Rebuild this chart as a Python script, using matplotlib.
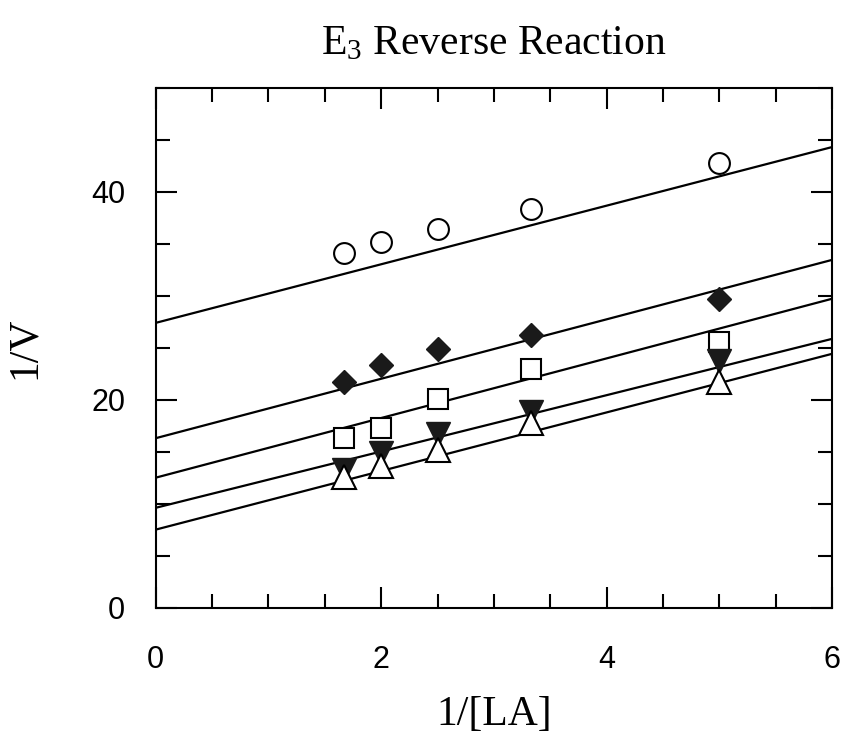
import matplotlib
matplotlib.use('Agg')
import matplotlib.pyplot as plt
import numpy as np
from matplotlib.ticker import MultipleLocator

# serif text for title and axis labels, sans for tick numbers
plt.rcParams['mathtext.fontset'] = 'custom'
plt.rcParams['mathtext.rm'] = 'Liberation Serif'
plt.rcParams['mathtext.it'] = 'Liberation Serif'

# 1/[LA] for each measured point
inv_la = [1.667, 2.0, 2.5, 3.333, 5.0]

# 1/V for each series
v_circle = [34.1, 35.2, 36.4, 38.4, 42.8]
v_diamond = [21.7, 23.3, 24.9, 26.2, 29.7]
v_square = [16.3, 17.3, 20.1, 23.0, 25.6]
v_tri_down = [13.2, 14.9, 16.7, 18.8, 23.7]
v_tri_up = [12.6, 13.6, 15.2, 17.8, 21.7]

# fitted lines (intercept, slope) for each series
fit_circle = (27.4, 2.82)
fit_diamond = (16.3, 2.86)
fit_square = (12.5, 2.87)
fit_tri_down = (9.6, 2.71)
fit_tri_up = (7.5, 2.82)

fig = plt.figure(figsize=(8.44, 7.4), dpi=100)
ax = fig.add_axes([0.1845, 0.179, 0.8013, 0.702])

# regression lines across the whole x range
x_line = np.array([0, 6])
for b, m in [fit_circle, fit_diamond, fit_square, fit_tri_down, fit_tri_up]:
    ax.plot(x_line, b + m * x_line, color='black', linewidth=1.6, zorder=2)

# data points
ax.plot(inv_la, v_circle, 'o', ms=15, mfc='white', mec='black', mew=1.5,
        linestyle='none', zorder=3)
ax.plot(inv_la, v_diamond, 'D', ms=12.5, mfc='#1a1a1a', mec='#1a1a1a', mew=1,
        linestyle='none', zorder=3)
ax.plot(inv_la, v_square, 's', ms=15, mfc='white', mec='black', mew=1.5,
        linestyle='none', zorder=3)
ax.plot(inv_la, v_tri_down, 'v', ms=17, mfc='#1a1a1a', mec='#1a1a1a', mew=1,
        linestyle='none', zorder=3)
ax.plot(inv_la, v_tri_up, '^', ms=17, mfc='white', mec='black', mew=1.5,
        linestyle='none', zorder=4)

ax.set_xlim(0, 6)
ax.set_ylim(0, 50)

ax.xaxis.set_major_locator(MultipleLocator(2))
ax.xaxis.set_minor_locator(MultipleLocator(0.5))
ax.yaxis.set_major_locator(MultipleLocator(20))
ax.yaxis.set_minor_locator(MultipleLocator(5))

ax.tick_params(which='both', direction='in', top=True, right=True, width=1.5)
ax.tick_params(which='major', length=15)
ax.tick_params(which='minor', length=10)
ax.tick_params(axis='x', which='major', pad=27)
ax.tick_params(axis='y', which='major', pad=22)
for lbl in ax.get_xticklabels() + ax.get_yticklabels():
    lbl.set_fontfamily('Liberation Sans')
    lbl.set_fontsize(22)

for spine in ax.spines.values():
    spine.set_linewidth(1.5)

ax.set_title('E$_3$ Reverse Reaction', fontfamily='Liberation Serif',
             fontsize=30, pad=24)
ax.set_xlabel('1/[LA]', fontfamily='Liberation Serif', fontsize=30)
ax.set_ylabel('1/V', fontfamily='Liberation Serif', fontsize=30)
ax.xaxis.set_label_coords(0.5, -0.17)
ax.yaxis.set_label_coords(-0.165, 0.5)

fig.savefig('out.png', dpi=100)
